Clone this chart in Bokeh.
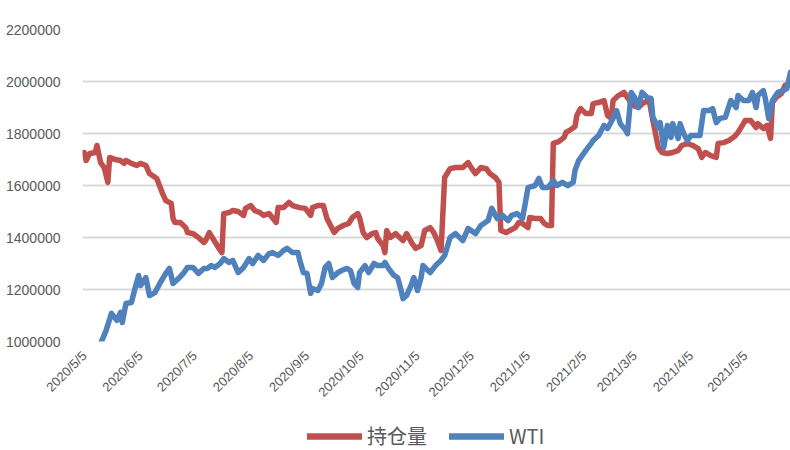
import pandas as pd
from math import pi
from bokeh.plotting import figure
from bokeh.layouts import column
from bokeh.models import Range1d, FixedTicker, NumeralTickFormatter, Legend, LegendItem
from bokeh.embed import file_html
from bokeh.resources import INLINE

# ---------------- data ----------------
oi_dates = [
    "2020-05-05", "2020-05-06", "2020-05-08", "2020-05-11", "2020-05-12", "2020-05-14", "2020-05-16", "2020-05-18",
    "2020-05-19", "2020-05-22", "2020-05-25", "2020-05-27", "2020-05-28", "2020-05-31", "2020-06-03", "2020-06-05",
    "2020-06-08", "2020-06-10", "2020-06-14", "2020-06-17", "2020-06-19", "2020-06-22", "2020-06-23", "2020-06-24",
    "2020-06-27", "2020-06-30", "2020-07-01", "2020-07-04", "2020-07-07", "2020-07-10", "2020-07-11", "2020-07-13",
    "2020-07-15", "2020-07-18", "2020-07-20", "2020-07-21", "2020-07-24", "2020-07-26", "2020-07-29", "2020-08-01",
    "2020-08-02", "2020-08-05", "2020-08-07", "2020-08-10", "2020-08-12", "2020-08-15", "2020-08-19", "2020-08-20",
    "2020-08-23", "2020-08-26", "2020-08-28", "2020-09-01", "2020-09-04", "2020-09-07", "2020-09-08", "2020-09-11",
    "2020-09-14", "2020-09-16", "2020-09-18", "2020-09-20", "2020-09-22", "2020-09-25", "2020-09-28", "2020-09-30",
    "2020-10-03", "2020-10-04", "2020-10-06", "2020-10-08", "2020-10-11", "2020-10-13", "2020-10-14", "2020-10-17",
    "2020-10-18", "2020-10-19", "2020-10-21", "2020-10-24", "2020-10-25", "2020-10-28", "2020-10-30", "2020-11-02",
    "2020-11-04", "2020-11-07", "2020-11-09", "2020-11-12", "2020-11-14", "2020-11-16", "2020-11-18", "2020-11-20",
    "2020-11-23", "2020-11-26", "2020-11-30", "2020-12-03", "2020-12-05", "2020-12-07", "2020-12-10", "2020-12-13",
    "2020-12-15", "2020-12-18", "2020-12-20", "2020-12-21", "2020-12-24", "2020-12-26", "2020-12-29", "2020-12-31",
    "2021-01-02", "2021-01-05", "2021-01-06", "2021-01-09", "2021-01-12", "2021-01-14", "2021-01-16", "2021-01-18",
    "2021-01-19", "2021-01-22", "2021-01-25", "2021-01-26", "2021-01-28", "2021-01-31", "2021-02-01", "2021-02-03",
    "2021-02-06", "2021-02-09", "2021-02-10", "2021-02-13", "2021-02-16", "2021-02-18", "2021-02-20", "2021-02-21",
    "2021-02-24", "2021-02-27", "2021-03-01", "2021-03-04", "2021-03-07", "2021-03-10", "2021-03-13", "2021-03-15",
    "2021-03-18", "2021-03-20", "2021-03-23", "2021-03-26", "2021-03-29", "2021-03-31", "2021-04-03", "2021-04-06",
    "2021-04-09", "2021-04-11", "2021-04-13", "2021-04-16", "2021-04-19", "2021-04-20", "2021-04-23", "2021-04-26",
    "2021-04-29", "2021-05-01", "2021-05-04", "2021-05-05", "2021-05-08", "2021-05-11", "2021-05-12", "2021-05-15",
    "2021-05-17", "2021-05-19", "2021-05-20", "2021-05-22", "2021-05-25", "2021-05-27",
]
oi_values = [
    1727000, 1696000, 1723000, 1727000, 1754000, 1688000, 1669000, 1612000,
    1708000, 1700000, 1696000, 1685000, 1696000, 1685000, 1677000, 1685000,
    1677000, 1646000, 1627000, 1573000, 1542000, 1531000, 1473000, 1458000,
    1458000, 1438000, 1419000, 1415000, 1400000, 1381000, 1388000, 1419000,
    1396000, 1362000, 1342000, 1492000, 1496000, 1504000, 1500000, 1485000,
    1512000, 1523000, 1504000, 1496000, 1485000, 1492000, 1458000, 1515000,
    1515000, 1535000, 1523000, 1515000, 1512000, 1485000, 1515000, 1523000,
    1523000, 1473000, 1446000, 1419000, 1435000, 1446000, 1454000, 1477000,
    1492000, 1477000, 1419000, 1400000, 1415000, 1419000, 1396000, 1369000,
    1342000, 1427000, 1400000, 1415000, 1408000, 1388000, 1415000, 1377000,
    1358000, 1369000, 1427000, 1438000, 1419000, 1388000, 1350000, 1631000,
    1665000, 1669000, 1669000, 1688000, 1665000, 1646000, 1669000, 1665000,
    1646000, 1631000, 1612000, 1427000, 1419000, 1427000, 1438000, 1458000,
    1454000, 1438000, 1477000, 1473000, 1473000, 1454000, 1446000, 1446000,
    1762000, 1769000, 1785000, 1804000, 1812000, 1827000, 1869000, 1896000,
    1877000, 1877000, 1915000, 1919000, 1927000, 1869000, 1858000, 1927000,
    1946000, 1958000, 1938000, 1908000, 1900000, 1919000, 1927000, 1850000,
    1746000, 1727000, 1723000, 1727000, 1735000, 1754000, 1762000, 1754000,
    1742000, 1708000, 1727000, 1715000, 1708000, 1762000, 1765000, 1773000,
    1788000, 1804000, 1838000, 1850000, 1850000, 1823000, 1838000, 1819000,
    1831000, 1781000, 1919000, 1938000, 1954000, 1985000,
]

wti_dates = [
    "2020-05-05", "2020-05-09", "2020-05-14", "2020-05-17", "2020-05-20", "2020-05-23", "2020-05-25", "2020-05-26",
    "2020-05-28", "2020-05-31", "2020-06-02", "2020-06-04", "2020-06-05", "2020-06-08", "2020-06-10", "2020-06-13",
    "2020-06-16", "2020-06-19", "2020-06-21", "2020-06-23", "2020-06-26", "2020-06-29", "2020-07-01", "2020-07-04",
    "2020-07-07", "2020-07-10", "2020-07-12", "2020-07-14", "2020-07-16", "2020-07-19", "2020-07-21", "2020-07-24",
    "2020-07-26", "2020-07-29", "2020-08-01", "2020-08-04", "2020-08-06", "2020-08-09", "2020-08-12", "2020-08-15",
    "2020-08-17", "2020-08-20", "2020-08-23", "2020-08-25", "2020-08-28", "2020-08-31", "2020-09-01", "2020-09-03",
    "2020-09-05", "2020-09-07", "2020-09-08", "2020-09-11", "2020-09-13", "2020-09-15", "2020-09-17", "2020-09-19",
    "2020-09-22", "2020-09-24", "2020-09-27", "2020-09-29", "2020-10-01", "2020-10-03", "2020-10-04", "2020-10-07",
    "2020-10-09", "2020-10-12", "2020-10-14", "2020-10-17", "2020-10-18", "2020-10-20", "2020-10-23", "2020-10-25",
    "2020-10-27", "2020-10-28", "2020-10-30", "2020-11-01", "2020-11-03", "2020-11-05", "2020-11-07", "2020-11-08",
    "2020-11-12", "2020-11-15", "2020-11-18", "2020-11-20", "2020-11-23", "2020-11-26", "2020-11-30", "2020-12-03",
    "2020-12-07", "2020-12-10", "2020-12-14", "2020-12-16", "2020-12-19", "2020-12-22", "2020-12-25", "2020-12-27",
    "2020-12-30", "2021-01-02", "2021-01-04", "2021-01-05", "2021-01-09", "2021-01-11", "2021-01-13", "2021-01-16",
    "2021-01-19", "2021-01-21", "2021-01-24", "2021-01-27", "2021-01-30", "2021-01-31", "2021-02-02", "2021-02-06",
    "2021-02-09", "2021-02-10", "2021-02-13", "2021-02-16", "2021-02-18", "2021-02-21", "2021-02-23", "2021-02-25",
    "2021-02-28", "2021-03-01", "2021-03-03", "2021-03-05", "2021-03-07", "2021-03-09", "2021-03-12", "2021-03-14",
    "2021-03-15", "2021-03-18", "2021-03-19", "2021-03-21", "2021-03-23", "2021-03-25", "2021-03-26", "2021-03-29",
    "2021-03-30", "2021-04-01", "2021-04-03", "2021-04-05", "2021-04-08", "2021-04-10", "2021-04-12", "2021-04-15",
    "2021-04-17", "2021-04-19", "2021-04-21", "2021-04-24", "2021-04-27", "2021-04-30", "2021-05-01", "2021-05-04",
    "2021-05-07", "2021-05-09", "2021-05-11", "2021-05-12", "2021-05-15", "2021-05-16", "2021-05-18", "2021-05-20",
    "2021-05-23", "2021-05-26", "2021-05-28", "2021-05-30",
]
wti_values = [
    827000, 908000, 992000, 1042000, 1108000, 1081000, 1112000, 1073000,
    1146000, 1150000, 1204000, 1254000, 1215000, 1246000, 1177000, 1188000,
    1227000, 1262000, 1281000, 1223000, 1242000, 1265000, 1285000, 1285000,
    1262000, 1281000, 1281000, 1292000, 1285000, 1300000, 1319000, 1304000,
    1312000, 1265000, 1285000, 1319000, 1300000, 1331000, 1312000, 1338000,
    1342000, 1331000, 1350000, 1358000, 1342000, 1342000, 1312000, 1265000,
    1262000, 1185000, 1204000, 1196000, 1223000, 1285000, 1300000, 1246000,
    1265000, 1273000, 1281000, 1273000, 1223000, 1208000, 1265000, 1292000,
    1265000, 1300000, 1292000, 1292000, 1304000, 1281000, 1254000, 1246000,
    1196000, 1165000, 1177000, 1208000, 1246000, 1196000, 1246000, 1292000,
    1265000, 1292000, 1312000, 1331000, 1400000, 1415000, 1388000, 1435000,
    1415000, 1446000, 1465000, 1512000, 1473000, 1485000, 1465000, 1485000,
    1492000, 1473000, 1550000, 1592000, 1600000, 1627000, 1592000, 1592000,
    1619000, 1600000, 1612000, 1600000, 1612000, 1658000, 1696000, 1735000,
    1762000, 1773000, 1792000, 1831000, 1819000, 1858000, 1888000, 1838000,
    1812000, 1800000, 1958000, 1938000, 1900000, 1958000, 1938000, 1935000,
    1862000, 1823000, 1842000, 1746000, 1831000, 1785000, 1838000, 1781000,
    1838000, 1800000, 1773000, 1792000, 1792000, 1792000, 1888000, 1888000,
    1896000, 1842000, 1858000, 1862000, 1927000, 1900000, 1946000, 1927000,
    1927000, 1958000, 1900000, 1946000, 1965000, 1938000, 1858000, 1927000,
    1958000, 1965000, 1973000, 2035000,
]

tick_dates = ["2020-05-05", "2020-06-05", "2020-07-05", "2020-08-05", "2020-09-05", "2020-10-05", "2020-11-05",
              "2020-12-05", "2021-01-05", "2021-02-05", "2021-03-05", "2021-04-05", "2021-05-05"]
tick_labels = ["2020/5/5", "2020/6/5", "2020/7/5", "2020/8/5", "2020/9/5", "2020/10/5", "2020/11/5",
               "2020/12/5", "2021/1/5", "2021/2/5", "2021/3/5", "2021/4/5", "2021/5/5"]
y_ticks = [1000000, 1200000, 1400000, 1600000, 1800000, 2000000, 2200000]

series_names = ["持仓量", "WTI"]
series_colors = ["#C0504D", "#4F81BD"]
LINE_W = 5.5

# ---------------- main chart ----------------
p = figure(
    width=790, height=410,
    x_axis_type="datetime",
    x_range=Range1d(pd.Timestamp("2020-05-04"), pd.Timestamp("2021-05-30")),
    y_range=Range1d(1000000, 2200000),
    output_backend="svg", toolbar_location=None,
    min_border_left=82, min_border_right=0, min_border_top=29, min_border_bottom=69,
)
p.outline_line_color = None

p.line(pd.to_datetime(oi_dates), oi_values, line_color=series_colors[0], line_width=LINE_W,
       line_join="round", line_cap="round")
p.line(pd.to_datetime(wti_dates), wti_values, line_color=series_colors[1], line_width=LINE_W,
       line_join="round", line_cap="round")

# y axis
p.yaxis.ticker = FixedTicker(ticks=y_ticks)
p.yaxis.formatter = NumeralTickFormatter(format="0")
p.yaxis.axis_line_color = None
p.yaxis.major_tick_line_color = None
p.yaxis.minor_tick_line_color = None
p.yaxis.major_label_standoff = 16
p.yaxis.major_label_text_font = "Liberation Sans"
p.yaxis.major_label_text_font_size = "14px"
p.yaxis.major_label_text_color = "#595959"

# x axis
tick_ms = [pd.Timestamp(d).value // 10**6 for d in tick_dates]
p.xaxis.ticker = FixedTicker(ticks=tick_ms)
p.xaxis.major_label_overrides = {t: lab for t, lab in zip(tick_ms, tick_labels)}
p.xaxis.major_label_orientation = pi / 4
p.xaxis.axis_line_color = None
p.xaxis.major_tick_line_color = None
p.xaxis.minor_tick_line_color = None
p.xaxis.major_label_standoff = 6
p.xaxis.major_label_text_font = "Liberation Sans"
p.xaxis.major_label_text_font_size = "13px"
p.xaxis.major_label_text_color = "#595959"

# grids
p.xgrid.grid_line_color = None
p.ygrid.ticker = FixedTicker(ticks=y_ticks)
p.ygrid.grid_line_color = "#d9d9d9"
p.ygrid.grid_line_width = 2

# ---------------- legend strip ----------------
lg = figure(width=790, height=40, x_range=Range1d(0, 1), y_range=Range1d(0, 1),
            x_axis_location=None, y_axis_location=None,
            output_backend="svg", toolbar_location=None,
            min_border_left=0, min_border_right=0, min_border_top=0, min_border_bottom=0)
lg.grid.visible = False
lg.outline_line_color = None
# swatch renderers: their points lie outside the strip's ranges, so only the legend shows them
k1 = lg.line([-5, -4], [-5, -4], line_color=series_colors[0], line_width=LINE_W + 1, line_cap="round")
k2 = lg.line([-5, -4], [-5, -4], line_color=series_colors[1], line_width=LINE_W + 1, line_cap="round")
legend = Legend(
    items=[LegendItem(label=series_names[0], renderers=[k1]),
           LegendItem(label=series_names[1], renderers=[k2])],
    orientation="horizontal", location=(225, 0),
    padding=0, margin=0, spacing=22,
    glyph_width=55, glyph_height=20, label_height=20, label_standoff=5,
    border_line_color=None, background_fill_alpha=0,
    label_text_font="Noto Sans CJK SC", label_text_font_size="20px", label_text_color="#595959",
)
lg.add_layout(legend)

layout = column(p, lg, spacing=0)
open("out.html", "w").write(file_html(layout, INLINE))
